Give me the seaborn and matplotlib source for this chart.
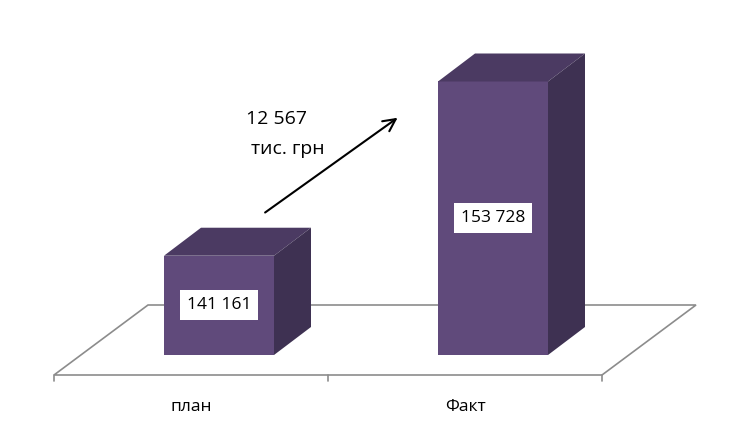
import matplotlib
matplotlib.use("Agg")
import matplotlib.pyplot as plt
from matplotlib.patches import Polygon
import pandas as pd
import seaborn as sns

categories = ["план", "Факт"]
values = [141161, 153728]
unit_label = "тис. грн"

FRONT = "#604A7B"
TOP = "#4B3A62"
SIDE = "#3E3152"
GRID = "#8C8C8C"

sns.set_theme(style="white")
plt.rcParams["font.family"] = ["Open Sans", "DejaVu Sans"]

fig = plt.figure(figsize=(7.51, 4.32), dpi=100)
ax = fig.add_axes([82 / 751, 1 - 355 / 432, 548 / 751, 305 / 432])

df = pd.DataFrame({"cat": categories, "val": values})
bar_w = 110 / 274
sns.barplot(data=df, x="cat", y="val", color=FRONT, saturation=1,
            width=bar_w, ax=ax, zorder=3, edgecolor="none", linewidth=0)

ymin, ymax = 134000, 156000
ax.set_ylim(ymin, ymax)
ax.set_xlim(-0.5, 1.5)
ax.axis("off")

# pixel -> data scale (axes fixed in figure)
px_x = 1 / 274
px_y = (ymax - ymin) / 305

# 3d depth of bars
ddx, ddy = 37 * px_x, 28 * px_y

# floor (drawn behind the bars)
fx, fy = -28 * px_x, -20 * px_y   # front edge offset
bx, by = 66 * px_x, 50 * px_y     # back edge offset
floor = [(-0.5 + fx, ymin + fy), (1.5 + fx, ymin + fy),
         (1.5 + bx, ymin + by), (-0.5 + bx, ymin + by)]
ax.add_patch(Polygon(floor, closed=True, fill=False, edgecolor=GRID,
                     linewidth=1.2, clip_on=False, zorder=1))
for t in [-0.5, 0.5, 1.5]:
    ax.plot([t + fx, t + fx], [ymin + fy, ymin + fy - 6 * px_y],
            color=GRID, linewidth=1.2, clip_on=False, zorder=1)

for i, (cat, v) in enumerate(zip(categories, values)):
    x0, x1 = i - bar_w / 2, i + bar_w / 2
    top = [(x0, v), (x1, v), (x1 + ddx, v + ddy), (x0 + ddx, v + ddy)]
    side = [(x1, ymin), (x1 + ddx, ymin + ddy), (x1 + ddx, v + ddy), (x1, v)]
    ax.add_patch(Polygon(top, closed=True, facecolor=TOP, edgecolor="none",
                         clip_on=False, zorder=4))
    ax.add_patch(Polygon(side, closed=True, facecolor=SIDE, edgecolor="none",
                         clip_on=False, zorder=4))
    label = f"{v:,}".replace(",", " ")
    ax.text(i, (ymin + v) / 2, label, ha="center", va="center", fontsize=12.5,
            color="black", zorder=6,
            bbox=dict(boxstyle="square,pad=0.4", facecolor="white", edgecolor="none"))
    ax.text(i + fx, ymin + fy - 32 * px_y, cat, ha="center", va="center",
            fontsize=12.5, color="black", clip_on=False)

# growth arrow
diff = values[1] - values[0]
ax.annotate("", xy=(0.66, values[1] - 2500), xytext=(0.16, values[0] + 3000),
            arrowprops=dict(arrowstyle="->", color="black", lw=1.5,
                            mutation_scale=22), zorder=5)
ax.text(0.21, values[1] - 2700, f"{diff:,}".replace(",", " "),
        ha="center", va="center", fontsize=14, color="black")
ax.text(0.25, values[1] - 4850, unit_label, ha="center", va="center",
        fontsize=14, color="black")

fig.savefig("out.png", dpi=100)
